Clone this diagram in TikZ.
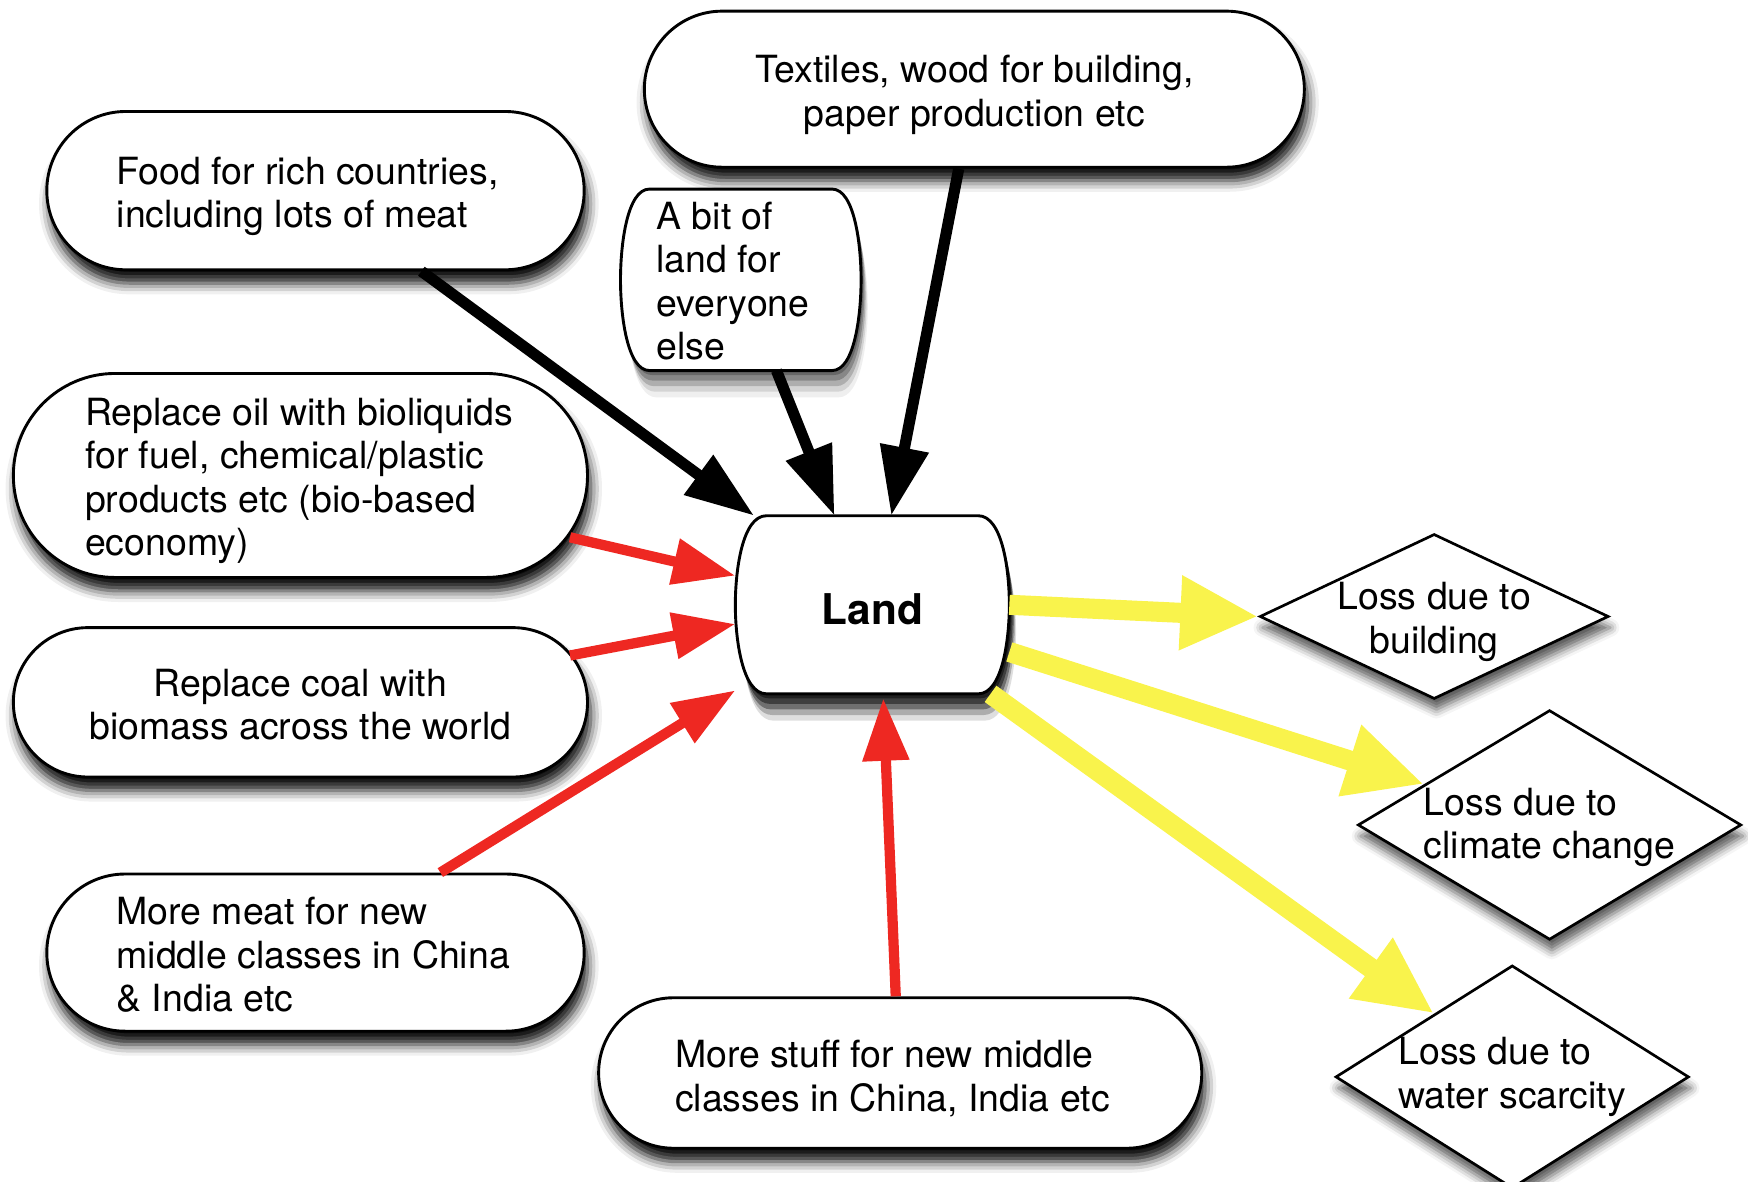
\documentclass[tikz,border=0pt]{standalone}
\usepackage{fontspec}
\setmainfont{TeX Gyre Heros}
\usetikzlibrary{shapes.geometric,arrows.meta,shadows.blur}
\definecolor{arrred}{RGB}{238,40,34}
\definecolor{arryel}{RGB}{249,243,76}
\newcommand{\barrelpath}[3]{% node, flat inset, side control
  ([xshift=#2]#1.north west) -- ([xshift=-#2]#1.north east)
   .. controls ([xshift=-3pt]#1.north east) and ([yshift=#3]#1.east) .. (#1.east)
   .. controls ([yshift=-#3]#1.east) and ([xshift=-3pt]#1.south east) .. ([xshift=-#2]#1.south east)
   -- ([xshift=#2]#1.south west)
   .. controls ([xshift=3pt]#1.south west) and ([yshift=-#3]#1.west) .. (#1.west)
   .. controls ([yshift=#3]#1.west) and ([xshift=3pt]#1.north west) .. cycle}
\newcommand{\barrelshape}[4]{% node, inset, control, shadow strength
  \fill[black,opacity=#4*0.30,transform canvas={shift={(1pt,-2pt)}}] \barrelpath{#1}{#2}{#3};
  \fill[black,opacity=#4*0.28,transform canvas={shift={(1.5pt,-4.5pt)}}] \barrelpath{#1}{#2}{#3};
  \fill[black,opacity=#4*0.22,transform canvas={shift={(2pt,-7pt)}}] \barrelpath{#1}{#2}{#3};
  \fill[black,opacity=#4*0.14,transform canvas={shift={(2.5pt,-9.5pt)}}] \barrelpath{#1}{#2}{#3};
  \fill[black,opacity=#4*0.08,transform canvas={shift={(3pt,-12pt)}}] \barrelpath{#1}{#2}{#3};
  \filldraw[draw=black,line width=1.3pt,fill=white] \barrelpath{#1}{#2}{#3};}
\begin{document}
\begin{tikzpicture}[x=0.5pt,y=-0.5pt,
  txt/.style={font=\fontsize{16.8pt}{19.5pt}\selectfont},
  shad/.style={blur shadow={shadow xshift=1.5pt,shadow yshift=-6pt,shadow blur radius=5pt,shadow opacity=95}},
  box/.style={rectangle,draw=black,line width=1.3pt,fill=white,shad,inner sep=0pt},
  holder/.style={rectangle,inner sep=0pt},
  tl/.style={txt,align=left,yshift=-2.5pt},
  tc/.style={txt,align=center,yshift=-2.5pt},
  dia/.style={diamond,draw=black,line width=1.2pt,fill=white,inner sep=0pt,
    blur shadow={shadow xshift=1pt,shadow yshift=-5pt,shadow blur radius=4pt,shadow opacity=65}},
  blk/.style={draw=black,line width=5pt,-{Triangle[length=31pt,width=21pt]}},
  redarr/.style={draw=arrred,line width=4.6pt,-{Triangle[length=28pt,width=20pt]}},
  yel/.style={draw=arryel,line width=9pt,-{Triangle[length=35pt,width=31pt]}},
]
\useasboundingbox (0,0) rectangle (1568,1060);

% boxes
\node[box,rounded corners=34.9pt,minimum width=296pt,minimum height=70pt,
  label={[tc]center:Textiles, wood for building,\\paper production etc}] (tex) at (874,80) {};
\node[box,rounded corners=35.4pt,minimum width=241pt,minimum height=71pt,
  label={[tl,xshift=-3.5pt]center:Food for rich countries,\\including lots of meat}] (food) at (283,171) {};
\node[box,rounded corners=45.6pt,minimum width=257.5pt,minimum height=91.5pt,
  label={[tl,xshift=-0.5pt]center:Replace oil with bioliquids\\for fuel, chemical/plastic\\products etc (bio-based\\economy)}] (oil) at (269.5,426.5) {};
\node[box,rounded corners=33.4pt,minimum width=257.5pt,minimum height=67pt,
  label={[tc,yshift=1.5pt]center:Replace coal with\\biomass across the world}] (coal) at (269.5,630) {};
\node[box,rounded corners=35.1pt,minimum width=241pt,minimum height=70.5pt,
  label={[tl,xshift=-1pt,yshift=1.5pt]center:More meat for new\\middle classes in China\\\& India etc}] (meat) at (283,854.5) {};
\node[box,rounded corners=33.6pt,minimum width=270.5pt,minimum height=67.5pt,
  label={[tl,xshift=-3.5pt]center:More stuff for new middle\\classes in China, India etc}] (stuff) at (807.5,962.5) {};

% barrel-shaped boxes
\node[holder,minimum width=107.5pt,minimum height=81pt] (abit) at (664.5,251) {};
\barrelshape{abit}{13pt}{16pt}{0.8}
\node[txt,align=left,xshift=-3.5pt,yshift=-0.5pt] (abittext) at (abit.center) {A bit of\\land for\\everyone\\else};
\node[holder,minimum width=122.5pt,minimum height=79.5pt] (land) at (782.5,542.5) {};
\barrelshape{land}{14pt}{15pt}{1.6}
\node[font=\fontsize{19pt}{22pt}\selectfont\bfseries,yshift=-2pt] (landtext) at (land.center) {Land};

% diamonds
\node[dia,minimum width=156.5pt,minimum height=74pt,
  label={[txt,align=center,yshift=-2.5pt]center:Loss due to\\building}] (bld) at (1286.5,553) {};
\node[dia,minimum width=172pt,minimum height=103pt,
  label={[txt,align=left,yshift=-1pt]center:Loss due to\\climate change}] (clim) at (1390,740) {};
\node[dia,minimum width=158.5pt,minimum height=100pt,
  label={[txt,align=left]center:Loss due to\\water scarcity}] (wat) at (1356.5,966) {};

% black arrows
\draw[blk] ([xshift=47.5pt]food.south) -- (land.143);
\draw[blk] ([xshift=16pt]abit.south) -- (land.113);
\draw[blk] ([xshift=-7pt]tex.south) -- (land.78);

% red arrows
\draw[redarr] ([xshift=-8.5pt,yshift=-27.75pt]oil.east) -- (land.168);
\draw[redarr] ([xshift=-8.5pt,yshift=21pt]coal.east) -- (land.188);
\draw[redarr] ([xshift=56pt]meat.north) -- (land.212);
\draw[redarr] ([xshift=-2pt]stuff.north) -- ([yshift=-2pt]land.-83);

% yellow arrows
\draw[yel] (land.east) -- (bld.west);
\draw[yel] (land.-19) -- (clim.162.6);
\draw[yel] (land.-37) -- (wat.141);
\end{tikzpicture}
\end{document}
